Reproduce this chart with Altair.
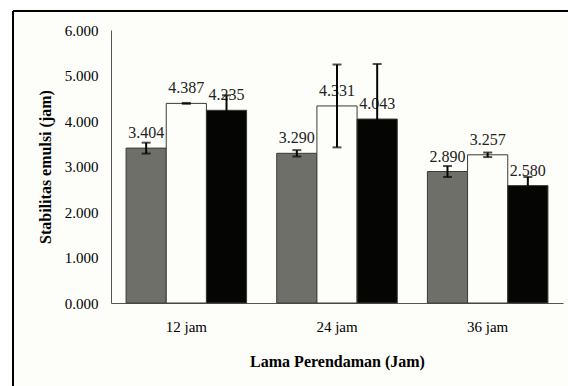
import altair as alt
import pandas as pd

groups = ["12 jam", "24 jam", "36 jam"]
series = ["Perlakuan 1", "Perlakuan 2", "Perlakuan 3"]
means = {
    "Perlakuan 1": [3.404, 3.290, 2.890],
    "Perlakuan 2": [4.387, 4.331, 3.257],
    "Perlakuan 3": [4.235, 4.043, 2.580],
}
errors = {
    "Perlakuan 1": [0.12, 0.07, 0.12],
    "Perlakuan 2": [0.01, 0.91, 0.05],
    "Perlakuan 3": [0.33, 1.21, 0.19],
}
colors = ["#6f6f6a", "#fdfdf9", "#050503"]

rows = []
for s in series:
    for g, m, e in zip(groups, means[s], errors[s]):
        rows.append({"grup": g, "seri": s, "nilai": m, "lo": m - e, "hi": m + e})
df = pd.DataFrame(rows)

FONT = "Liberation Serif"

x = alt.X("grup:N", sort=groups, title="Lama Perendaman (Jam)",
          scale=alt.Scale(paddingInner=0.2, paddingOuter=0.1),
          axis=alt.Axis(labelAngle=0, ticks=False, labelPadding=16, titlePadding=19,
                        domainColor="#555", labelFont=FONT, labelFontSize=15,
                        titleFont=FONT, titleFontSize=16, titleFontWeight="bold",
                        labelColor="black", titleColor="black"))
xo = alt.XOffset("seri:N", sort=series)

base = alt.Chart(df).encode(x=x, xOffset=xo)

bars = base.mark_bar(stroke="#3a3a36", strokeWidth=1).encode(
    y=alt.Y("nilai:Q", title="Stabilitas emulsi (jam)",
            scale=alt.Scale(domain=[0, 6]),
            axis=alt.Axis(values=[0, 1, 2, 3, 4, 5, 6], format=".3f", grid=False, ticks=False,
                          labelPadding=13, titlePadding=11, domainColor="#555",
                          labelFont=FONT, labelFontSize=15, titleFont=FONT,
                          titleFontSize=16, titleFontWeight="bold",
                          labelColor="black", titleColor="black")),
    color=alt.Color("seri:N", sort=series, scale=alt.Scale(domain=series, range=colors), legend=None),
)

labels = base.mark_text(baseline="bottom", dy=-7, font=FONT, fontSize=16, color="#222").encode(
    y="nilai:Q",
    text=alt.Text("nilai:Q", format=".3f"),
)

err = base.mark_rule(color="#050503", strokeWidth=2).encode(y="lo:Q", y2="hi:Q")
caps_hi = base.mark_tick(color="#050503", size=9, thickness=2).encode(y="hi:Q")
caps_lo = base.mark_tick(color="#050503", size=9, thickness=2).encode(y="lo:Q")

frame_left = alt.Chart(df).mark_rule(color="black", strokeWidth=2).encode(
    x=alt.value(-98), y=alt.value(-19), y2=alt.value(400))
frame_top = alt.Chart(df).mark_rule(color="black", strokeWidth=2).encode(
    x=alt.value(-98), x2=alt.value(470), y=alt.value(-19))

chart = alt.layer(bars, labels, err, caps_hi, caps_lo, frame_left, frame_top).properties(
    width=452, height=273,
    autosize=alt.AutoSizeParams(type="none"),
    padding={"left": 103, "top": 22, "right": 5, "bottom": 90},
    background="#fdfdf9",
).configure_view(stroke=None)

chart.save("out.html", embed_options={"renderer": "svg", "actions": False})
